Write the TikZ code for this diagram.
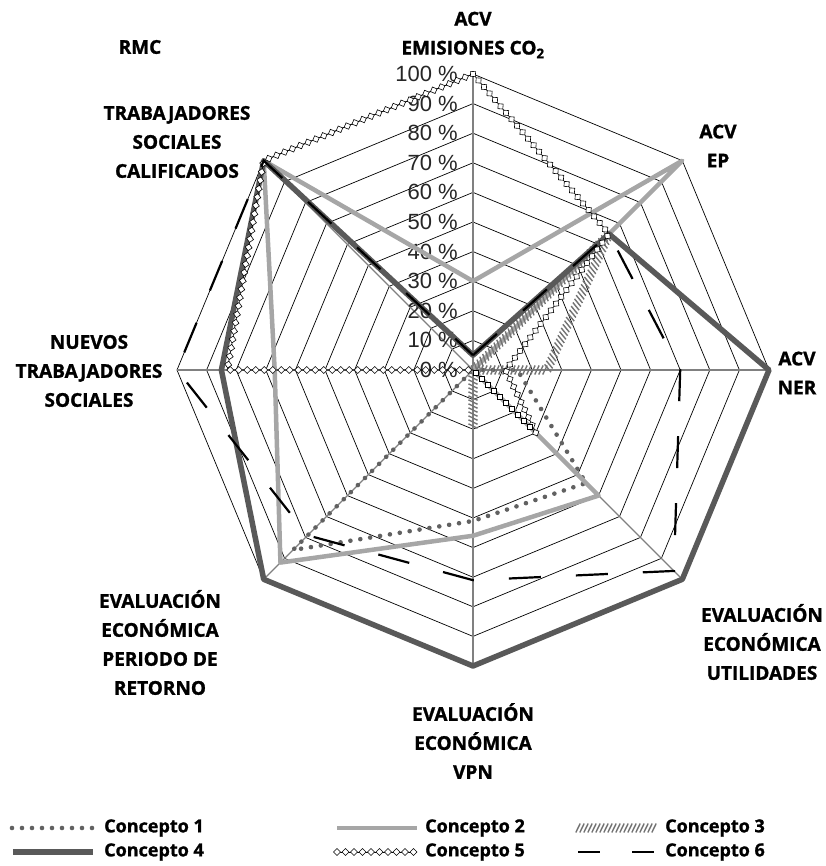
\documentclass[tikz,border=0pt]{standalone}
\usepackage{fontspec}
\setmainfont{Open Sans}[BoldFeatures={FakeBold=1.2}]
\newfontfamily\pctfont{Liberation Sans}
\usepackage{tikz}
\usetikzlibrary{decorations.markings}
\usetikzlibrary{positioning}
\tikzstyle{ring}=[draw=black, line width=0.7pt]
\tikzstyle{spoke}=[draw=black!50, line width=1.1pt]
\tikzstyle{axislabel}=[font=\bfseries\fontsize{19}{29}\selectfont, align=center, inner sep=0pt]
\tikzstyle{pct}=[font=\pctfont\fontsize{22}{24}\selectfont, text=black!85, anchor=east, inner sep=0pt]
\tikzstyle{legtext}=[font=\bfseries\fontsize{18}{20}\selectfont, anchor=west, inner sep=0pt]
\tikzstyle{concepto1}=[draw=black!62, line width=4.6pt, line cap=round, dash pattern=on 0pt off 10pt]
\tikzstyle{concepto2}=[draw=black!35, line width=4.5pt, line join=round]
\tikzstyle{concepto3}=[postaction={decorate}, decoration={markings, mark=between positions 0 and 1 step 4pt with {\draw[black!55, line width=1.4pt] (-2.2pt,-4.5pt) -- (2.2pt,4.5pt);}}]
\tikzstyle{concepto4}=[draw=black!65, line width=5.5pt, line join=round]
\tikzstyle{concepto5}=[draw=black, line width=0.6pt, postaction={decorate}, decoration={markings, mark=between positions 0 and 1 step 8.5pt with {\draw[black, line width=0.6pt, fill=white] (-3.5pt,0) -- (0,3.5pt) -- (3.5pt,0) -- (0,-3.5pt) -- cycle;}}]
\tikzstyle{concepto6}=[draw=black, line width=2.2pt, dash pattern=on 32pt off 35pt]

\begin{document}
\begin{tikzpicture}[x=1pt, y=1pt]
        \useasboundingbox (-473,-496) rectangle (352,370);
        \coordinate (ctr) at (0,0);

        % Grid
        \foreach \r in {1,...,10}
          \draw[ring] (90:\r*29.6) \foreach \a in {45,0,...,-270} { -- (\a:\r*29.6) } -- cycle;
        \foreach \a in {0,45,...,315}
          \draw[spoke] (ctr) -- (\a:296);

        % Scale
        \foreach \k [evaluate=\k as \p using int(10*\k)] in {0,...,10}
          \node[pct] (pct_\k) at (-15, \k*29.6) {\p\ \%};

        % Values, clockwise from the top
        \foreach \v [count=\i from 0] in {0,0,0.15,0.54,0.51,0.86,0,0}
          \coordinate (con1_\i) at ({90-45*\i}:\v*296);
        \foreach \v [count=\i from 0] in {0.30,1,0,0.60,0.56,0.92,0.67,1}
          \coordinate (con2_\i) at ({90-45*\i}:\v*296);
        \foreach \v [count=\i from 0] in {0,0.65,0.25,0,0.20,0,0,0}
          \coordinate (con3_\i) at ({90-45*\i}:\v*296);
        \foreach \v [count=\i from 0] in {0.05,0.65,1,1,1,1,0.85,1}
          \coordinate (con4_\i) at ({90-45*\i}:\v*296);
        \foreach \v [count=\i from 0] in {1,0.65,0.11,0.30,0,0,0.83,1}
          \coordinate (con5_\i) at ({90-45*\i}:\v*296);
        \foreach \v [count=\i from 0] in {0.05,0.65,0.70,0.96,0.71,0.79,1,1}
          \coordinate (con6_\i) at ({90-45*\i}:\v*296);

        \draw[concepto1] (con1_0) -- (con1_1) -- (con1_2) -- (con1_3) -- (con1_4) -- (con1_5) -- (con1_6) -- (con1_7) -- cycle;
        \draw[concepto2] (con2_0) -- (con2_1) -- (con2_2) -- (con2_3) -- (con2_4) -- (con2_5) -- (con2_6) -- (con2_7) -- cycle;
        \path[concepto3] (con3_0) -- (con3_1) -- (con3_2) -- (con3_3) -- (con3_4);
        \draw[concepto4] (con4_0) -- (con4_1) -- (con4_2) -- (con4_3) -- (con4_4) -- (con4_5) -- (con4_6) -- (con4_7) -- cycle;
        \draw[concepto5] (con5_0) -- (con5_1) -- (con5_2) -- (con5_3) -- (con5_4) -- (con5_6) -- (con5_7) -- cycle;
        \draw[concepto6] (con6_0) -- (con6_1) -- (con6_2) -- (con6_3) -- (con6_4) -- (con6_5) -- (con6_6) -- (con6_7) -- cycle;

        % Text
        \node[axislabel] (rmc) at (-333,323) {RMC};
        \node[axislabel] (lab_co2) at (0,335) {ACV\\EMISIONES CO\textsubscript{2}};
        \node[axislabel] (lab_ep) at (245,224) {ACV\\EP};
        \node[axislabel] (lab_ner) at (324,-3) {ACV\\NER};
        \node[axislabel] (lab_util) at (289,-272) {EVALUACIÓN\\ECONÓMICA\\UTILIDADES};
        \node[axislabel] (lab_vpn) at (0,-371) {EVALUACIÓN\\ECONÓMICA\\VPN};
        \node[axislabel] (lab_ret) at (-313,-272.5) {EVALUACIÓN\\ECONÓMICA\\PERIODO DE\\RETORNO};
        \node[axislabel] (lab_new) at (-384,-1) {NUEVOS\\TRABAJADORES\\SOCIALES};
        \node[axislabel] (lab_cal) at (-296,228) {TRABAJADORES\\SOCIALES\\CALIFICADOS};

        % Legend
        \node[legtext] (leg1) at (-369,-458) {Concepto 1};
        \node[legtext] (leg2) at (-48,-458) {Concepto 2};
        \node[legtext] (leg3) at (192,-458) {Concepto 3};
        \node[legtext] (leg4) at (-369,-482) {Concepto 4};
        \node[legtext] (leg5) at (-48,-482) {Concepto 5};
        \node[legtext] (leg6) at (192,-482) {Concepto 6};
        \draw[concepto1] ([xshift=-92pt]leg1.west) -- ([xshift=-8pt]leg1.west);
        \draw[concepto2] ([xshift=-88pt]leg2.west) -- ([xshift=-8pt]leg2.west);
        \path[concepto3] ([xshift=-87pt]leg3.west) -- ([xshift=-8pt]leg3.west);
        \draw[concepto4] ([xshift=-91pt]leg4.west) -- ([xshift=-11pt]leg4.west);
        \draw[concepto5] ([xshift=-88pt]leg5.west) -- ([xshift=-8pt]leg5.west);
        \draw[concepto6, dash pattern=on 22pt off 32pt] ([xshift=-87pt]leg6.west) -- ([xshift=-8pt]leg6.west);
      \end{tikzpicture}
\end{document}
